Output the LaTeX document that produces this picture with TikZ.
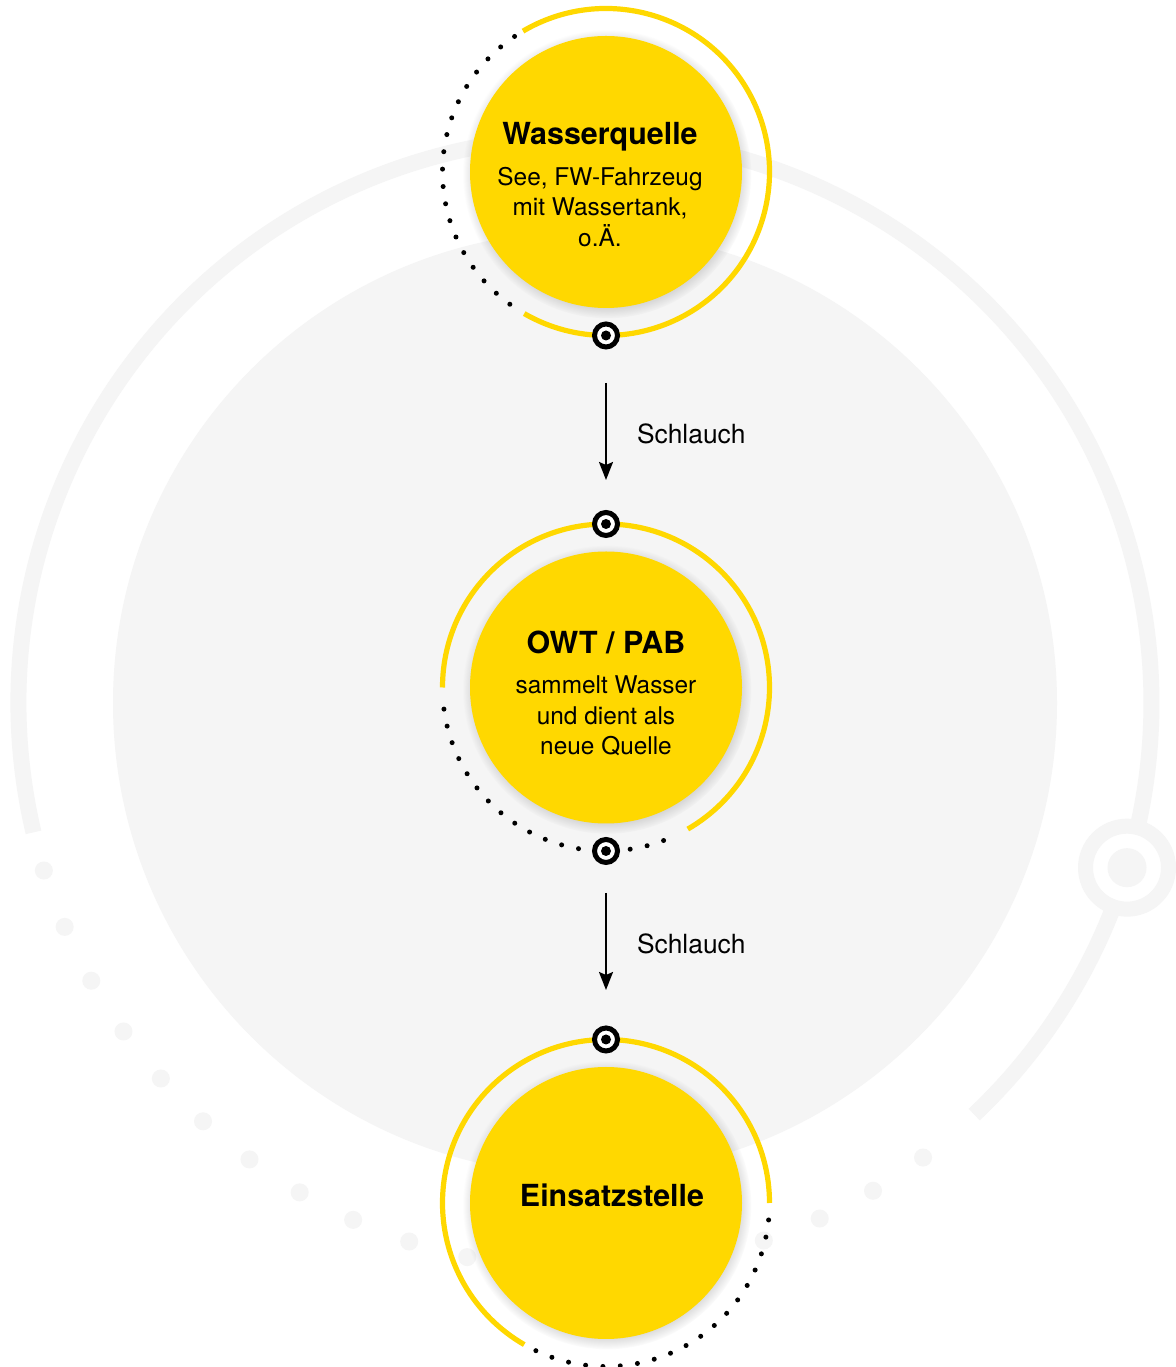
\documentclass[tikz,border=0pt]{standalone}
\usepackage{fontspec}
\setmainfont{TeX Gyre Heros}
\usetikzlibrary{arrows.meta,shadows}

\definecolor{owtyellow}{RGB}{255,216,0}
\definecolor{bggray}{RGB}{245,245,245}

\tikzset{
  disk/.style={circle, fill=owtyellow, minimum size=136pt, inner sep=0pt,
    circular drop shadow={shadow xshift=0.5pt, shadow yshift=-1pt, shadow scale=1.06, opacity=0.5}},
  ring/.style={owtyellow, line width=2.6pt},
  target/.style={circle, draw=black, fill=white, line width=2.5pt, minimum size=11.5pt, inner sep=0pt},
  title/.style={font=\bfseries\fontsize{15.2}{18}\selectfont, inner sep=0pt, anchor=base},
  info/.style={font=\fontsize{12.2}{15.25}\selectfont, align=center, inner sep=0pt, anchor=north},
  hose/.style={line width=1pt, -{Stealth[length=9pt, width=7pt, inset=1.5pt]}},
  hoselabel/.style={font=\fontsize{13.2}{16}\selectfont, inner sep=0pt, right=15pt}
}

\begin{document}
\begin{tikzpicture}[x=0.5pt, y=0.5pt]
    \useasboundingbox[fill=white] (0,0) rectangle (1175,1367);

    % background disk and outer track
    \coordinate (bg) at (585,664);
    \fill[bggray] (bg) circle[radius=472];
    \draw[bggray, line width=8pt] ([shift={(193.2:566.5)}]bg) arc[start angle=193.2, end angle=-46.6, radius=566.5];
    \foreach \k in {0,...,18}
        \fill[bggray] ([shift={({197.2+6.08*\k}:566.5)}]bg) circle[radius=9];
    \node[circle, draw=bggray, fill=white, line width=7.5pt, minimum size=41.5pt, inner sep=0pt] (knob) at ([shift={(-16.9:566.5)}]bg) {};
    \fill[bggray] (knob) circle[radius=19.5];

    % station centres
    \coordinate (c1) at (606,1195);
    \coordinate (c2) at (606,679.5);
    \coordinate (c3) at (606,164);

    % rings
    \draw[ring] ([shift={(120.5:163.5)}]c1) arc[start angle=120.5, end angle=-120, radius=163.5];
    \foreach \k in {0,...,18}
        \fill ([shift={({124+6.11*\k}:163.5)}]c1) circle[radius=2.5];

    \draw[ring] ([shift={(180:163.5)}]c2) arc[start angle=180, end angle=-60, radius=163.5];
    \foreach \k in {0,...,12,15,16,17}
        \fill ([shift={({187.6+6.06*\k}:163.5)}]c2) circle[radius=2.5];

    \draw[ring] ([shift={(0:163.5)}]c3) arc[start angle=0, end angle=240, radius=163.5];
    \foreach \k in {0,...,18}
        \fill ([shift={({244.6+6.08*\k}:163.5)}]c3) circle[radius=2.5];

    % stations
    \node[disk] (src) at (c1) {};
    \node[title] (srctitle) at (600,1222) {Wasserquelle};
    \node[info] (srcinfo) at (600,1200.5) {See, FW-Fahrzeug\\mit Wassertank,\\o.Ä.};

    \node[disk] (owt) at (c2) {};
    \node[title] (owttitle) at (606,713) {OWT / PAB};
    \node[info] (owtinfo) at (606,691.6) {sammelt Wasser\\und dient als\\neue Quelle};

    \node[disk] (site) at (c3) {};
    \node[title] (sitetitle) at (612,160) {Einsatzstelle};

    % couplings
    \node[target] (out1) at ([shift={(270:163.5)}]c1) {};
    \node[target] (in2) at ([shift={(90:163.5)}]c2) {};
    \node[target] (out2) at ([shift={(270:163.5)}]c2) {};
    \node[target] (in3) at ([shift={(90:163.5)}]c3) {};
    \foreach \t in {out1,in2,out2,in3}
        \fill (\t) circle[radius=5];

    % hoses
    \draw[hose, shorten <=16.75pt, shorten >=15pt] (out1) -- node[hoselabel, yshift=-2pt] (hose1) {Schlauch} (in2);
    \draw[hose, shorten <=14pt, shorten >=17.75pt] (out2) -- node[hoselabel, yshift=0.7pt] (hose2) {Schlauch} (in3);
\end{tikzpicture}
\end{document}
